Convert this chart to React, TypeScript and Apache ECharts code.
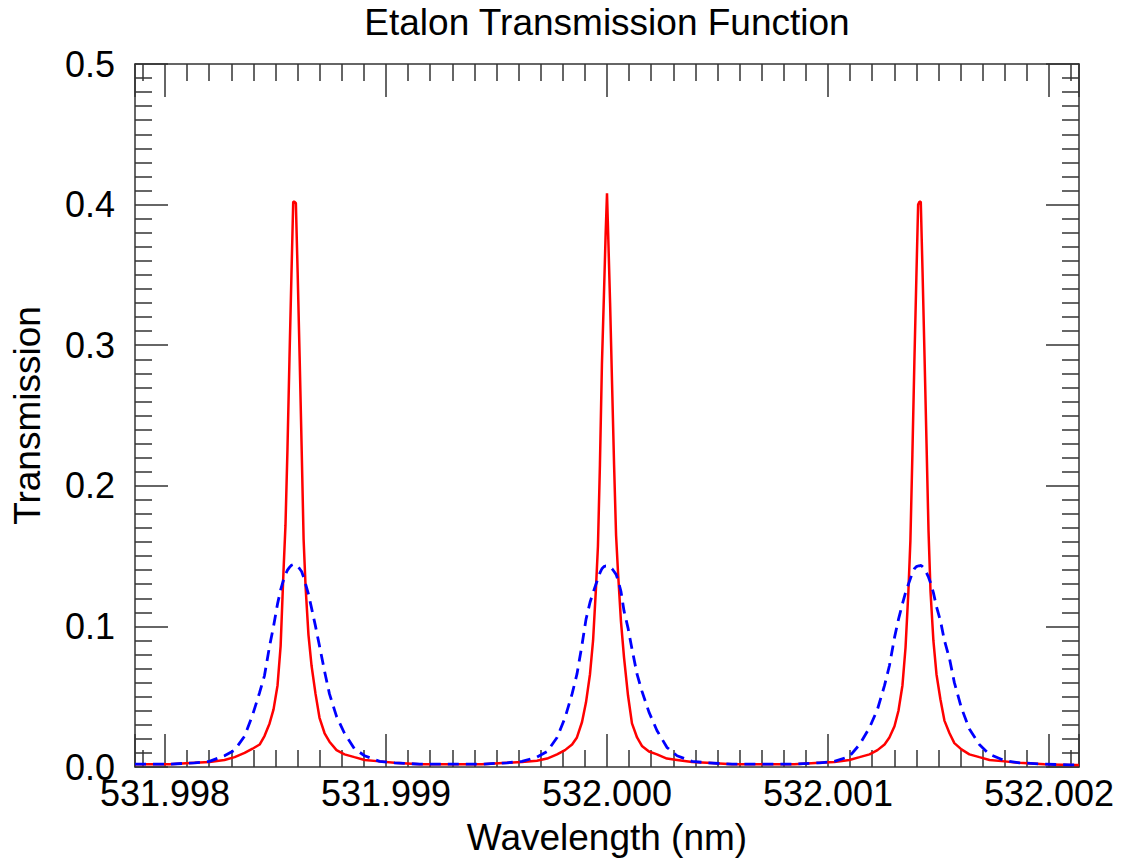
import React, { useEffect, useRef } from "react";
import * as echarts from "echarts";

// Wavelength axis values are stored as offsets from 532 nm, in picometres.
const CENTER_NM = 532;
const X_MIN_PM = -2.136;
const X_MAX_PM = 2.136;

const wavelengthOffsetPm: number[] = [
  // left peak
  -2.136, -2.093, -1.98, -1.866, -1.799, -1.731, -1.685, -1.64, -1.604, -1.572, -1.55, -1.527, -1.509, -1.491,
  -1.477, -1.464, -1.455, -1.446, -1.437, -1.428, -1.42, -1.414, -1.408, -1.4, -1.391, -1.382, -1.373, -1.364,
  -1.351, -1.337, -1.319, -1.301, -1.278, -1.256, -1.224, -1.188, -1.143, -1.097, -1.029, -0.962, -0.848,
  -0.707,
  // centre peak
  -0.566, -0.452, -0.385, -0.317, -0.271, -0.226, -0.19, -0.158, -0.136, -0.113, -0.095, -0.077, -0.063, -0.05,
  -0.041, -0.032, -0.023, -0.014, -0.006, 0, 0.006, 0.014, 0.023, 0.032, 0.041, 0.05, 0.063, 0.077, 0.095, 0.113,
  0.136, 0.158, 0.19, 0.226, 0.271, 0.317, 0.385, 0.452, 0.566,
  0.707,
  // right peak
  0.848, 0.962, 1.029, 1.097, 1.143, 1.188, 1.224, 1.256, 1.278, 1.301, 1.319, 1.337, 1.351, 1.364, 1.373, 1.382,
  1.391, 1.4, 1.408, 1.414, 1.42, 1.428, 1.437, 1.446, 1.455, 1.464, 1.477, 1.491, 1.509, 1.527, 1.55, 1.572,
  1.604, 1.64, 1.685, 1.731, 1.799, 1.866, 1.98, 2.093, 2.136,
];

// Red solid curve
const transmissionRed: number[] = [
  // left peak
  0.002, 0.002, 0.002, 0.003, 0.0035, 0.005, 0.007, 0.01, 0.013, 0.016, 0.022, 0.031, 0.041, 0.058,
  0.086, 0.139, 0.172, 0.226, 0.29, 0.35, 0.402, 0.402, 0.401, 0.352, 0.292, 0.228, 0.162, 0.128,
  0.094, 0.072, 0.052, 0.035, 0.024, 0.018, 0.012, 0.009, 0.007, 0.005, 0.004, 0.003, 0.002,
  0.002,
  // centre peak
  0.002, 0.003, 0.0035, 0.0045, 0.006, 0.009, 0.012, 0.016, 0.021, 0.032, 0.046, 0.066, 0.09, 0.127,
  0.157, 0.215, 0.286, 0.335, 0.38, 0.408, 0.375, 0.33, 0.272, 0.215, 0.165, 0.138, 0.104, 0.078, 0.051, 0.031,
  0.021, 0.015, 0.011, 0.009, 0.006, 0.005, 0.0035, 0.003, 0.002,
  0.002,
  // right peak
  0.002, 0.003, 0.0035, 0.005, 0.007, 0.009, 0.012, 0.016, 0.021, 0.029, 0.04, 0.058, 0.085, 0.125, 0.161, 0.222,
  0.288, 0.348, 0.4, 0.402, 0.402, 0.352, 0.292, 0.23, 0.168, 0.125, 0.09, 0.066, 0.048, 0.033, 0.024, 0.017,
  0.0125, 0.009, 0.007, 0.005, 0.004, 0.003, 0.002, 0.0015, 0.0015,
];

// Blue dashed curve
const transmissionBlue: number[] = [
  // left peak
  0.002, 0.002, 0.002, 0.003, 0.004, 0.008, 0.012, 0.022, 0.037, 0.053, 0.065, 0.086, 0.1, 0.116,
  0.126, 0.133, 0.137, 0.14, 0.142, 0.1435, 0.144, 0.144, 0.1435, 0.143, 0.141, 0.139, 0.135, 0.13,
  0.123, 0.113, 0.1, 0.086, 0.068, 0.052, 0.036, 0.024, 0.013, 0.008, 0.004, 0.003, 0.002,
  0.002,
  // centre peak
  0.002, 0.003, 0.004, 0.007, 0.011, 0.021, 0.035, 0.052, 0.066, 0.087, 0.105, 0.117, 0.124, 0.13,
  0.134, 0.138, 0.141, 0.1425, 0.143, 0.143, 0.143, 0.142, 0.141, 0.139, 0.137, 0.133, 0.125, 0.111, 0.099, 0.084,
  0.066, 0.054, 0.039, 0.026, 0.014, 0.008, 0.004, 0.003, 0.002,
  0.002,
  // right peak
  0.002, 0.003, 0.004, 0.0075, 0.016, 0.028, 0.041, 0.058, 0.072, 0.092, 0.105, 0.116, 0.124, 0.13, 0.134, 0.138,
  0.141, 0.1425, 0.143, 0.143, 0.1435, 0.1425, 0.141, 0.138, 0.135, 0.131, 0.124, 0.114, 0.104, 0.09, 0.077, 0.06,
  0.042, 0.027, 0.016, 0.009, 0.0045, 0.003, 0.002, 0.0015, 0.0015,
];

const yTicks = { min: 0, max: 0.5, interval: 0.1 };

const FONT = "'Liberation Sans', Helvetica, Arial, sans-serif";
const AXIS_COLOR = "#333333";

export default function App() {
  const ref = useRef<HTMLDivElement>(null);

  useEffect(() => {
    if (!ref.current) return;
    const chart = echarts.init(ref.current, undefined, { renderer: "svg" });

    const redData = wavelengthOffsetPm.map((x, i) => [x, transmissionRed[i]]);
    const blueData = wavelengthOffsetPm.map((x, i) => [x, transmissionBlue[i]]);

    const axisLine = { show: true, onZero: false, lineStyle: { color: AXIS_COLOR, width: 1.5 } };
    const axisTick = { show: true, inside: true, length: 33, lineStyle: { color: AXIS_COLOR, width: 1.5 } };
    const minorTick = { show: true, splitNumber: 10, length: 17, lineStyle: { color: AXIS_COLOR, width: 1.5 } };

    const xBase = {
      type: "value" as const,
      min: X_MIN_PM,
      max: X_MAX_PM,
      axisLine,
      axisTick,
      minorTick,
      splitLine: { show: false },
      minorSplitLine: { show: false },
    };
    const yBase = {
      type: "value" as const,
      min: yTicks.min,
      max: yTicks.max,
      interval: yTicks.interval,
      axisLine,
      axisTick,
      minorTick,
      splitLine: { show: false },
      minorSplitLine: { show: false },
    };

    chart.setOption({
      animation: false,
      backgroundColor: "#ffffff",
      title: {
        text: "Etalon Transmission Function",
        left: 607,
        textAlign: "center",
        top: 8,
        padding: 0,
        textStyle: { fontFamily: FONT, fontSize: 37, lineHeight: 29, fontWeight: "normal", color: "#000" },
      },
      grid: {
        left: 135,
        right: 43,
        top: 64,
        bottom: 96,
        containLabel: false,
        outerBoundsMode: "none",
      },
      xAxis: [
        {
          ...xBase,
          position: "bottom",
          name: "Wavelength (nm)",
          nameLocation: "middle",
          nameGap: 52,
          nameTextStyle: { fontFamily: FONT, fontSize: 37, color: "#000" },
          axisLabel: {
            show: true,
            margin: 8,
            fontFamily: FONT,
            fontSize: 36,
            color: "#000",
            showMinLabel: false,
            showMaxLabel: false,
            formatter: (v: number) => (CENTER_NM + v / 1000).toFixed(3),
          },
        },
        { ...xBase, position: "top", axisLabel: { show: false } },
      ],
      yAxis: [
        {
          ...yBase,
          position: "left",
          name: "Transmission",
          nameLocation: "middle",
          nameGap: 89,
          nameTextStyle: { fontFamily: FONT, fontSize: 37, color: "#000" },
          axisLabel: {
            show: true,
            margin: 20,
            fontFamily: FONT,
            fontSize: 36,
            color: "#000",
            formatter: (v: number) => v.toFixed(1),
          },
        },
        { ...yBase, position: "right", axisLabel: { show: false } },
      ],
      series: [
        {
          type: "line",
          name: "red",
          xAxisIndex: 0,
          yAxisIndex: 0,
          data: redData,
          showSymbol: false,
          symbol: "none",
          lineStyle: { color: "#ff0000", width: 2.5 },
          z: 2,
        },
        {
          type: "line",
          name: "blue",
          xAxisIndex: 0,
          yAxisIndex: 0,
          data: blueData,
          showSymbol: false,
          symbol: "none",
          lineStyle: { color: "#0000ff", width: 2.8, type: [11, 7] },
          z: 3,
        },
      ],
    });

    return () => chart.dispose();
  }, []);

  return (
    <div
      ref={ref}
      style={{ position: "absolute", left: 0, top: 0, width: 1122, height: 863 }}
    />
  );
}
